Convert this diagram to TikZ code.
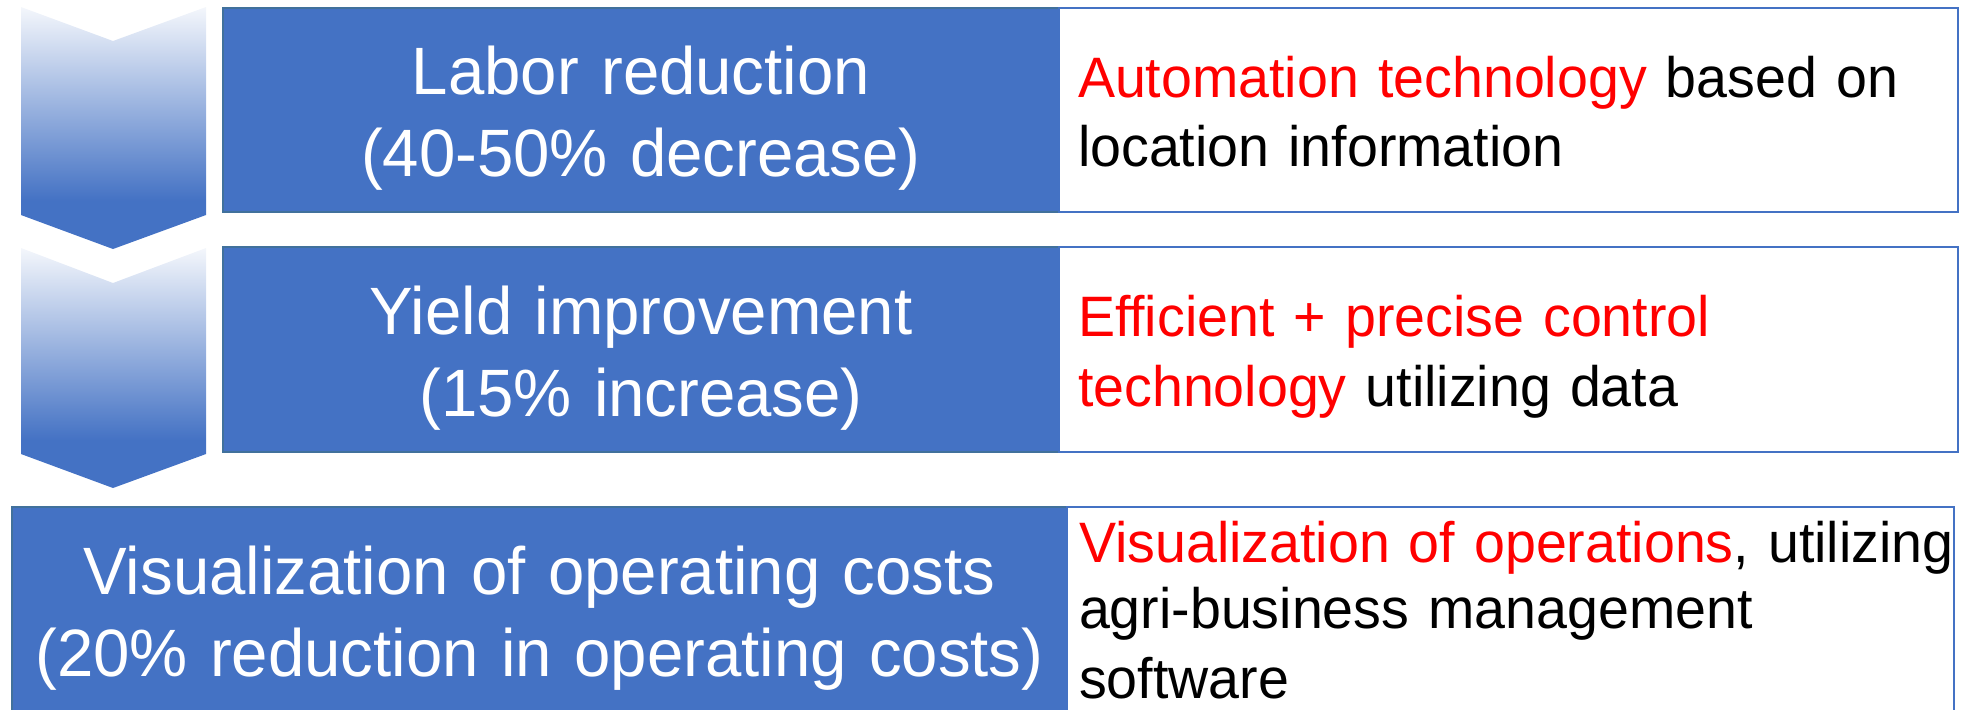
\documentclass[tikz,border=0pt]{standalone}
\usepackage{fontspec}
\setmainfont{Liberation Sans}[FakeStretch=0.975]
\usetikzlibrary{positioning}

\definecolor{barblue}{HTML}{4472C4}
\definecolor{baredge}{HTML}{41719C}
\definecolor{keyred}{HTML}{FF0000}
% fades from light at the top to solid blue near the point
\pgfdeclareverticalshading{chevfade}{100bp}{color(0bp)=(barblue); color(35bp)=(barblue); color(75bp)=(barblue!6); color(100bp)=(barblue!6)}
% line box: .98em above the baseline, .21em below
\newcommand{\linestrut}{\rule[-.21em]{0pt}{1.19em}}
\newcommand{\key}[1]{\textcolor{keyred}{#1}}

\begin{document}
\begin{tikzpicture}[x=0.5pt,y=-0.5pt,outer sep=0pt,
    goal node/.style={rectangle,fill=barblue,draw=baredge,line width=0.6pt,text=white,align=center,font=\fontsize{33.5}{39}\selectfont,inner xsep=9pt,text width=400pt,minimum width=418pt,minimum height=102pt,execute at begin node=\linestrut,execute at end node=\linestrut},
    tech node/.style={rectangle,fill=white,draw=barblue,line width=0.9pt,align=left,font=\fontsize{28.5}{33}\selectfont,inner xsep=9.5pt,text width=430.5pt,minimum height=102pt,execute at begin node=\linestrut,execute at end node=\linestrut},
    goal text/.style={text=white,align=center,inner sep=0pt,text width=509pt,font=\fontsize{33.5}{39}\selectfont,execute at begin node=\linestrut,execute at end node=\linestrut},
    tech text/.style={align=left,inner sep=0pt,text width=460pt,font=\fontsize{28.5}{33}\selectfont,execute at begin node=\linestrut,execute at end node=\linestrut}]

    \useasboundingbox (0,0) rectangle (1964,709);
    \clip (0,0) rectangle (1964,709);

    % the two down chevrons
    \shade[shading=chevfade] (21,7) -- (113,41) -- (206,7) -- (206,215) -- (113,249) -- (21,215) -- cycle;
    \shade[shading=chevfade] (21,248) -- (113,283) -- (206,248) -- (206,454) -- (113,488) -- (21,454) -- cycle;

    \node[goal node] (L1) at (641,110) {Labor reduction\\(40-50\% decrease)};
    \node[tech node] (R1) [right=0pt of L1] {\key{Automation technology} based on\\location information};

    \node[goal node,minimum height=102.5pt] (L2) at (641,349.5) {Yield improvement\\(15\% increase)};
    \node[tech node,minimum height=102.5pt] (R2) [right=0pt of L2] {\key{Efficient + precise control}\\\key{technology} utilizing data};

    % last row runs off the bottom edge
    \node[goal node,minimum width=527.5pt,minimum height=126.5pt] (L3) at (539.5,633.5) {};
    \node[tech node,text width=424.5pt,minimum height=126.5pt] (R3) [right=0pt of L3] {};
    \node[goal text] (L3t) [below=11pt of L3.north] {Visualization of operating costs\\(20\% reduction in operating costs)};
    \node[tech text] (R3t) [below right=0pt and 6pt of R3.north west] {\key{Visualization of operations}, utilizing\\agri-business management\\software};

\end{tikzpicture}
\end{document}
